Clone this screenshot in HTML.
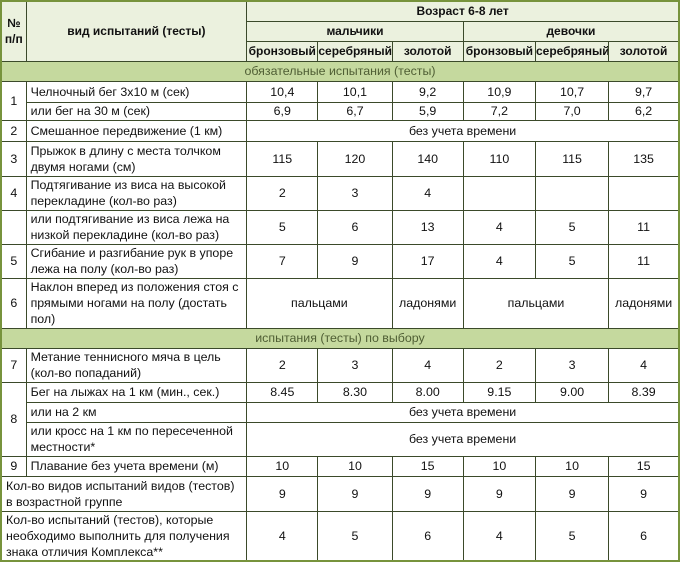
<!DOCTYPE html>
<html><head><meta charset="utf-8"><style>
*{margin:0;padding:0;box-sizing:border-box}
body{width:680px;height:562px;background:#fff;font-family:"Liberation Sans","DejaVu Sans",sans-serif;font-size:12.4px;color:#111;overflow:hidden}
table{position:absolute;left:0;top:0;width:680px;border-collapse:collapse;table-layout:fixed;border:2px solid #77933c}
td{border:1px solid #3b4a2a;padding:0 2px;text-align:center;vertical-align:middle;line-height:16px;overflow:hidden;white-space:normal}
td.l{text-align:left;padding-left:4px}
.h td{background:#ebf1de;font-weight:bold;padding:0;white-space:nowrap;font-size:12px}
.h td.w{white-space:normal}
.s td{background:#c5d99e;color:#4f5e34}
</style></head><body>
<table>
<colgroup><col style="width:25px"><col style="width:220px"><col style="width:71px"><col style="width:74px"><col style="width:71px"><col style="width:72px"><col style="width:73px"><col style="width:70px"></colgroup>
<tr class="h" style="height:20px"><td rowspan="3" class="w">№<br>п/п</td><td rowspan="3">вид испытаний (тесты)</td><td colspan="6">Возраст 6-8 лет</td></tr>
<tr class="h" style="height:20px"><td colspan="3">мальчики</td><td colspan="3">девочки</td></tr>
<tr class="h" style="height:20px"><td>бронзовый</td><td>серебряный</td><td>золотой</td><td>бронзовый</td><td>серебряный</td><td>золотой</td></tr>
<tr class="s" style="height:20px"><td colspan="8">обязательные испытания (тесты)</td></tr>
<tr style="height:21px"><td rowspan="2">1</td><td class="l">Челночный бег 3х10 м (сек)</td><td>10,4</td><td>10,1</td><td>9,2</td><td>10,9</td><td>10,7</td><td>9,7</td></tr>
<tr style="height:18px"><td class="l">или бег на 30 м (сек)</td><td>6,9</td><td>6,7</td><td>5,9</td><td>7,2</td><td>7,0</td><td>6,2</td></tr>
<tr style="height:21px"><td>2</td><td class="l">Смешанное передвижение (1 км)</td><td colspan="6">без учета времени</td></tr>
<tr style="height:35px"><td>3</td><td class="l">Прыжок в длину с места толчком двумя ногами (см)</td><td>115</td><td>120</td><td>140</td><td>110</td><td>115</td><td>135</td></tr>
<tr style="height:34px"><td>4</td><td class="l">Подтягивание из виса на высокой перекладине (кол-во раз)</td><td>2</td><td>3</td><td>4</td><td></td><td></td><td></td></tr>
<tr style="height:34px"><td></td><td class="l">или подтягивание из виса лежа на низкой перекладине (кол-во раз)</td><td>5</td><td>6</td><td>13</td><td>4</td><td>5</td><td>11</td></tr>
<tr style="height:34px"><td>5</td><td class="l">Сгибание и разгибание рук в упоре лежа на полу (кол-во раз)</td><td>7</td><td>9</td><td>17</td><td>4</td><td>5</td><td>11</td></tr>
<tr style="height:50px"><td>6</td><td class="l">Наклон вперед из положения стоя с прямыми ногами на полу (достать пол)</td><td colspan="2">пальцами</td><td>ладонями</td><td colspan="2">пальцами</td><td>ладонями</td></tr>
<tr class="s" style="height:20px"><td colspan="8">испытания (тесты) по выбору</td></tr>
<tr style="height:34px"><td>7</td><td class="l">Метание теннисного мяча в цель (кол-во попаданий)</td><td>2</td><td>3</td><td>4</td><td>2</td><td>3</td><td>4</td></tr>
<tr style="height:20px"><td rowspan="3">8</td><td class="l">Бег на лыжах на 1 км (мин., сек.)</td><td>8.45</td><td>8.30</td><td>8.00</td><td>9.15</td><td>9.00</td><td>8.39</td></tr>
<tr style="height:20px"><td class="l">или на 2 км</td><td colspan="6">без учета времени</td></tr>
<tr style="height:34px"><td class="l">или кросс на 1 км по пересеченной местности*</td><td colspan="6">без учета времени</td></tr>
<tr style="height:20px"><td>9</td><td class="l">Плавание без учета времени (м)</td><td>10</td><td>10</td><td>15</td><td>10</td><td>10</td><td>15</td></tr>
<tr style="height:35px"><td colspan="2" class="l">Кол-во видов испытаний видов (тестов) в возрастной группе</td><td>9</td><td>9</td><td>9</td><td>9</td><td>9</td><td>9</td></tr>
<tr style="height:49px"><td colspan="2" class="l">Кол-во испытаний (тестов), которые необходимо выполнить для получения знака отличия Комплекса**</td><td>4</td><td>5</td><td>6</td><td>4</td><td>5</td><td>6</td></tr>
</table>
</body></html>
